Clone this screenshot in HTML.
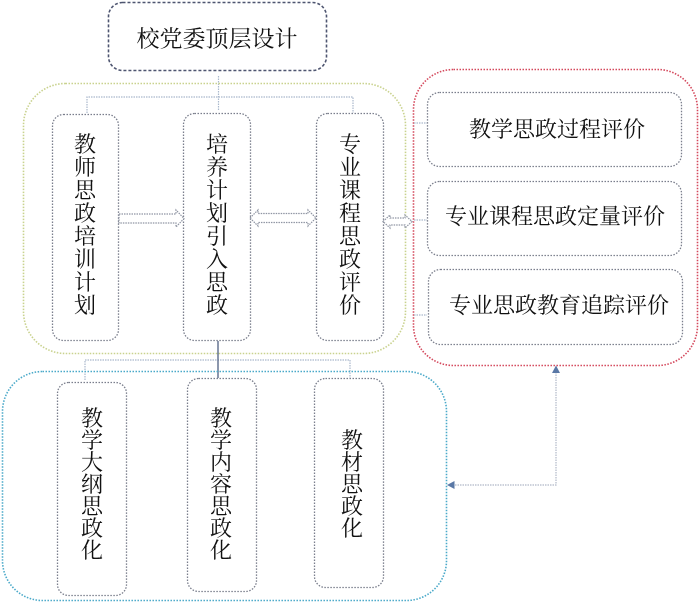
<!DOCTYPE html>
<html><head><meta charset="utf-8"><style>
html,body{margin:0;padding:0;background:#fff;}
svg{display:block;}
text{font-family:"Liberation Serif","Noto Serif CJK SC","Noto Sans CJK SC",serif;fill:#111;}
</style></head><body>
<svg width="700" height="602" viewBox="0 0 700 602" xmlns="http://www.w3.org/2000/svg">
<!-- top box -->
<rect x="108.5" y="2.5" width="218" height="68" rx="14" fill="#fff" stroke="#4e5570" stroke-width="1.6" stroke-dasharray="3 2"/>
<text x="217" y="41" font-size="23" text-anchor="middle" dominant-baseline="middle">校党委顶层设计</text>

<!-- connectors top -->
<g stroke="#aab8cc" stroke-width="1.2" fill="none" stroke-dasharray="1.5 1">
<path d="M218.5 76 V110"/>
<path d="M87 113 V97 H353 V113"/>
</g>

<!-- green outer -->
<rect x="23.5" y="83.5" width="382" height="270" rx="42" fill="none" stroke="#c9d28e" stroke-width="1.6" stroke-dasharray="1.5 1.5"/>

<!-- green inner boxes -->
<g fill="#fff" stroke="#7a7e8c" stroke-width="1.3" stroke-dasharray="1.5 1.5">
<rect x="52.5" y="114.5" width="66" height="226" rx="11"/>
<rect x="183.5" y="113.5" width="67" height="227" rx="11"/>
<rect x="316.5" y="113.5" width="67" height="227" rx="11"/>
</g>
<g font-size="22" text-anchor="middle">
<text x="85" y="152">教</text><text x="85" y="175">师</text><text x="85" y="198">思</text><text x="85" y="221">政</text><text x="85" y="244">培</text><text x="85" y="267">训</text><text x="85" y="290">计</text><text x="85" y="313">划</text>
<text x="217" y="152">培</text><text x="217" y="175">养</text><text x="217" y="198">计</text><text x="217" y="221">划</text><text x="217" y="244">引</text><text x="217" y="267">入</text><text x="217" y="290">思</text><text x="217" y="313">政</text>
<text x="350" y="152">专</text><text x="350" y="175">业</text><text x="350" y="198">课</text><text x="350" y="221">程</text><text x="350" y="244">思</text><text x="350" y="267">政</text><text x="350" y="290">评</text><text x="350" y="313">价</text>
</g>

<!-- hollow arrows -->
<g fill="#fff" stroke="#8f95a3" stroke-width="1.2" stroke-dasharray="1.5 1">
<path d="M119 214 H176 V210 L184 218.5 L176 227 V223 H119 Z"/>
<path d="M250 218 L258 210 V213.5 H308 V210 L316 218 L308 226 V222.5 H258 V226 Z"/>
<path d="M383 221.5 L390 215 V218 H405 V215 L412 221.5 L405 228 V225 H390 V228 Z"/>
</g>

<!-- red outer -->
<rect x="413.5" y="69.5" width="284" height="296" rx="40" fill="none" stroke="#d4485c" stroke-width="1.6" stroke-dasharray="1.5 1.5"/>
<g stroke="#aab8cc" stroke-width="1.2" stroke-dasharray="1.5 1" fill="none">
<path d="M414 123 H427"/><path d="M414 220 H427"/><path d="M414 315 H427"/>
</g>
<g fill="#fff" stroke="#7a7e8c" stroke-width="1.3" stroke-dasharray="1.5 1.5">
<rect x="427.5" y="92.5" width="254" height="74" rx="12"/>
<rect x="427.5" y="181.5" width="254" height="74" rx="12"/>
<rect x="428.5" y="269.5" width="254" height="75" rx="12"/>
</g>
<g font-size="22" text-anchor="middle" dominant-baseline="middle">
<text x="557" y="132">教学思政过程评价</text>
<text x="555" y="219">专业课程思政定量评价</text>
<text x="559" y="308">专业思政教育追踪评价</text>
</g>

<!-- bottom connectors -->
<g stroke="#aab8cc" stroke-width="1.2" fill="none" stroke-dasharray="1.5 1">
<path d="M85 380 V360 H350 V378"/>
</g>
<path d="M218 341 V378" stroke="#5a6a8a" stroke-width="1.4"/>

<!-- blue outer -->
<rect x="2.5" y="371.5" width="444" height="229" rx="40" fill="none" stroke="#4aa9c9" stroke-width="1.6" stroke-dasharray="1.5 1.5"/>
<g fill="#fff" stroke="#7a7e8c" stroke-width="1.3" stroke-dasharray="1.5 1.5">
<rect x="57.5" y="382.5" width="69" height="213" rx="11"/>
<rect x="187.5" y="378.5" width="69" height="213" rx="11"/>
<rect x="314.5" y="378.5" width="69" height="209" rx="11"/>
</g>
<g font-size="22" text-anchor="middle">
<text x="92" y="426">教</text><text x="92" y="448">学</text><text x="92" y="470">大</text><text x="92" y="492">纲</text><text x="92" y="514">思</text><text x="92" y="536">政</text><text x="92" y="558">化</text>
<text x="221" y="426">教</text><text x="221" y="448">学</text><text x="221" y="470">内</text><text x="221" y="492">容</text><text x="221" y="514">思</text><text x="221" y="536">政</text><text x="221" y="558">化</text>
<text x="352" y="448">教</text><text x="352" y="470">材</text><text x="352" y="492">思</text><text x="352" y="514">政</text><text x="352" y="536">化</text>
</g>

<!-- red to blue connector -->
<path d="M556 372 V485 H454" fill="none" stroke="#b0b8c8" stroke-width="1.2" stroke-dasharray="1.5 1"/>
<path d="M556 365.5 L552 373 H560 Z" fill="#5a78a6"/>
<path d="M447 485 L454.5 481 V489 Z" fill="#5a78a6"/>
</svg>
</body></html>
